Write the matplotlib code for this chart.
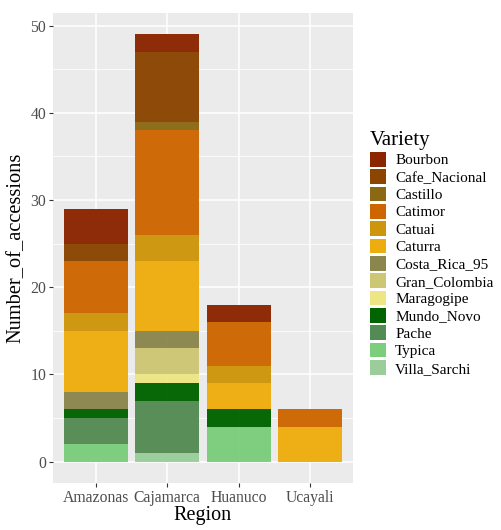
import numpy as np
import matplotlib
matplotlib.use("Agg")
import matplotlib.pyplot as plt
from matplotlib.patches import Patch

# data
regions = ["Amazonas", "Cajamarca", "Huanuco", "Ucayali"]
varieties = ["Bourbon", "Cafe_Nacional", "Castillo", "Catimor", "Catuai", "Caturra",
             "Costa_Rica_95", "Gran_Colombia", "Maragogipe", "Mundo_Novo", "Pache",
             "Typica", "Villa_Sarchi"]
# counts per variety, one value per region (Amazonas, Cajamarca, Huanuco, Ucayali)
bourbon = [4, 2, 2, 0]
cafe_nacional = [2, 8, 0, 0]
castillo = [0, 1, 0, 0]
catimor = [6, 12, 5, 2]
catuai = [2, 3, 2, 0]
caturra = [7, 8, 3, 4]
costa_rica_95 = [2, 2, 0, 0]
gran_colombia = [0, 3, 0, 0]
maragogipe = [0, 1, 0, 0]
mundo_novo = [1, 2, 2, 0]
pache = [3, 6, 0, 0]
typica = [2, 0, 4, 0]
villa_sarchi = [0, 1, 0, 0]

counts = [bourbon, cafe_nacional, castillo, catimor, catuai, caturra, costa_rica_95,
          gran_colombia, maragogipe, mundo_novo, pache, typica, villa_sarchi]
colors = ["#8B2500", "#8B4500", "#8B6914", "#CD6600", "#CD950C", "#EEAD0E",
          "#8B864E", "#CDC673", "#EEE685", "#006400", "#548B54", "#7CCD7C", "#9BCD9B"]

plt.rcParams["font.family"] = ["Liberation Serif", "DejaVu Serif"]

fig = plt.figure(figsize=(5.01, 5.30), dpi=100)
ax = fig.add_axes([53 / 501, 47 / 530, 300 / 501, 470 / 530])
ax.set_facecolor("#EBEBEB")

x = np.arange(len(regions))
# ggplot stacks the first level on top, so build from the last variety upward
bottom = np.zeros(len(regions))
for name, vals, col in reversed(list(zip(varieties, counts, colors))):
    vals = np.array(vals, dtype=float)
    ax.bar(x, vals, width=0.9, bottom=bottom, color=col, alpha=0.97, linewidth=0)
    bottom += vals

ax.set_xlim(-0.6, 3.6)
ax.set_ylim(-2.45, 51.45)
ax.set_yticks([0, 10, 20, 30, 40, 50])
ax.set_yticks([5, 15, 25, 35, 45], minor=True)
ax.set_xticks(x)
ax.set_xticklabels(regions)
ax.grid(which="major", color="white", linewidth=1.1)
ax.grid(which="minor", axis="y", color="white", linewidth=0.55)
ax.set_axisbelow(True)
for s in ax.spines.values():
    s.set_visible(False)
ax.tick_params(which="major", length=3, color="#333333", labelsize=11.3, labelcolor="#4D4D4D", pad=2)
ax.tick_params(which="minor", length=0)

ax.set_xlabel("Region", fontsize=14.5, labelpad=0)
ax.set_ylabel("Number_of_accessions", fontsize=14.7, labelpad=3)

handles = [Patch(facecolor=c, edgecolor="none") for c in colors]
leg = fig.legend(handles, varieties, loc="upper left", bbox_to_anchor=(370 / 501, 1 - 131 / 530),
                 frameon=False, title="Variety", fontsize=11, title_fontsize=15,
                 handlelength=1.05, handleheight=1.1, handletextpad=0.6,
                 labelspacing=0.12, borderaxespad=0, borderpad=0)
leg._legend_box.align = "left"

fig.savefig("out.png", dpi=100)
